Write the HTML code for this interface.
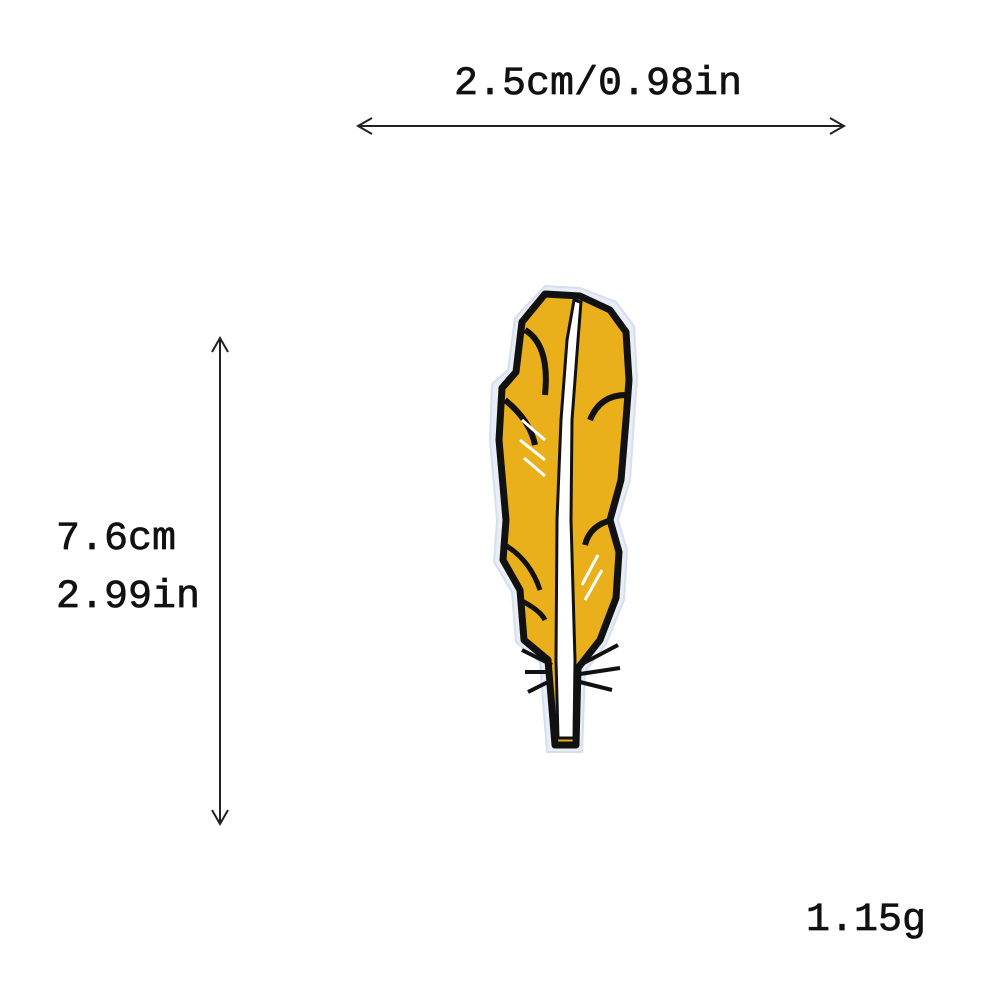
<!DOCTYPE html>
<html><head><meta charset="utf-8"><style>
html,body{margin:0;padding:0;background:#fff;}
svg{display:block}
text{font-family:"Liberation Mono",monospace;fill:#111;stroke:#111;stroke-width:0.7px;}
</style></head><body>
<svg width="1000" height="1000" viewBox="0 0 1000 1000">
<g>
<text x="598" y="94" font-size="40" text-anchor="middle">2.5cm/0.98in</text>
<line x1="360" y1="126" x2="842" y2="126" stroke="#222" stroke-width="2"/>
<path d="M372,118 L358,126 L372,134" fill="none" stroke="#222" stroke-width="2"/>
<path d="M830,118 L844,126 L830,134" fill="none" stroke="#222" stroke-width="2"/>
</g>
<g>
<line x1="220" y1="340" x2="220" y2="822" stroke="#222" stroke-width="2"/>
<path d="M212,352 L220,338 L228,352" fill="none" stroke="#222" stroke-width="2"/>
<path d="M212,810 L220,824 L228,810" fill="none" stroke="#222" stroke-width="2"/>
<text x="56" y="549" font-size="40">7.6cm</text>
<text x="56" y="607" font-size="40">2.99in</text>
</g>
<text x="806" y="930" font-size="40">1.15g</text>
<g>
<path d="M545,286 L515,318 L508,370 L492,384 L490,440 L497,520 L494,562 L512,592 L516,642 L540,662 L547,752 L582,752 L585,672 L606,644 L624,600 L627,550 L618,520 L630,480 L634,420 L637,378 L634,326 L616,302 L580,288 Z" fill="#e8edf6" stroke="#d8dfec" stroke-width="2"/>
<path d="M545,294 L522,322 L516,372 L502,388 L499,440 L506,520 L503,560 L520,590 L524,640 L548,660 L555,745 L576,745 L578,668 L600,640 L616,598 L619,552 L610,520 L621,480 L626,420 L629,380 L626,332 L610,310 L580,296 Z" fill="#e9b01c" stroke="#111" stroke-width="7" stroke-linejoin="round"/>
<path d="M525,330 Q550,345 545,395" fill="none" stroke="#111" stroke-width="6"/>
<path d="M505,400 Q530,420 535,445" fill="none" stroke="#111" stroke-width="6"/>
<path d="M626,395 Q600,395 590,420" fill="none" stroke="#111" stroke-width="6"/>
<path d="M612,520 Q590,525 585,545" fill="none" stroke="#111" stroke-width="6"/>
<path d="M505,545 Q530,560 540,590" fill="none" stroke="#111" stroke-width="5"/>
<path d="M520,600 Q540,610 545,620" fill="none" stroke="#111" stroke-width="5"/>
<path d="M574,300 L567,340 L561,420 L557,520 L556,660 L558,738 L574,738 L575,660 L571,520 L572,420 L578,340 L581,302 Z" fill="#fff" stroke="#111" stroke-width="3"/>
<path d="M522,650 L552,665 M525,672 L552,672 M528,692 L552,680 M618,645 L580,665 M620,668 L580,674 M612,690 L580,682" stroke="#111" stroke-width="4" fill="none"/>
<path d="M522,420 L545,440 M520,440 L545,460 M524,458 L545,476 M598,555 L582,585 M602,570 L585,600" stroke="#fff" stroke-width="3" fill="none"/>
</g>
</svg>
</body></html>
